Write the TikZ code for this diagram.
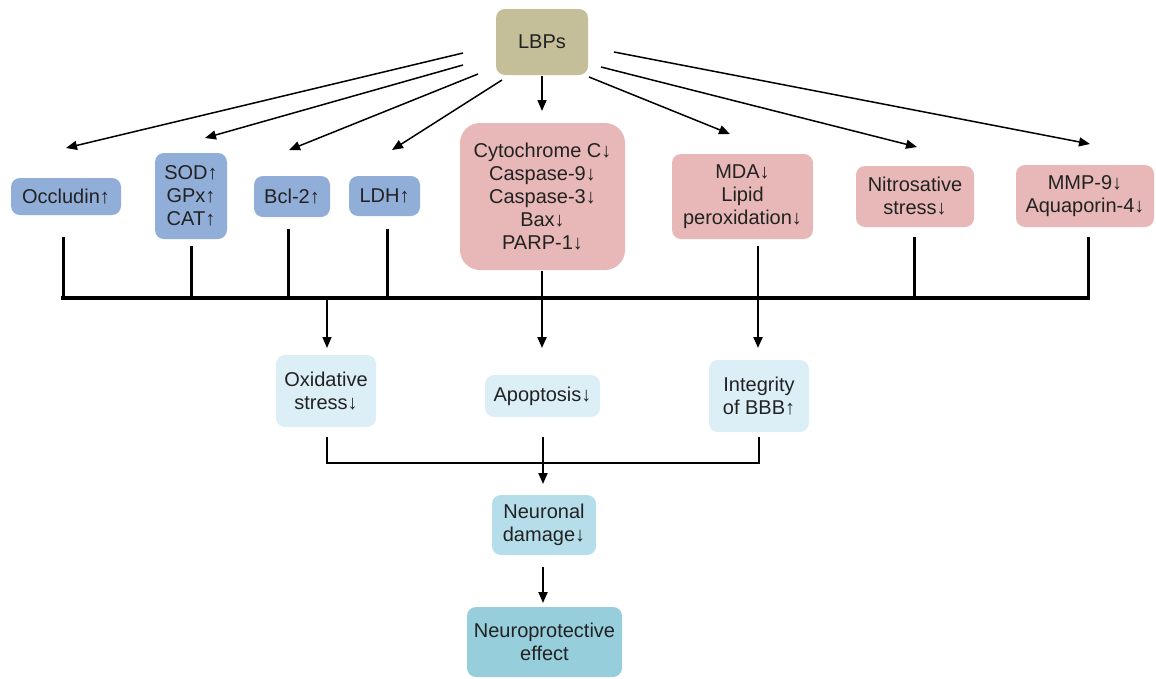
\documentclass[tikz,border=0pt]{standalone}
\usepackage{fontspec}
\setmainfont{Liberation Sans}
\usetikzlibrary{arrows.meta}
\definecolor{khaki}{HTML}{C4BF99}
\definecolor{bluebox}{HTML}{91AED9}
\definecolor{pinkbox}{HTML}{E8B8B8}
\definecolor{lightbox}{HTML}{DCEFF6}
\definecolor{midbox}{HTML}{B6DEEA}
\definecolor{darkbox}{HTML}{96CEDC}
\definecolor{txt}{HTML}{222222}
\tikzset{
  box/.style={rounded corners=9pt, align=center, inner sep=0pt, text=txt,
    font=\fontsize{20}{23}\selectfont},
  blue/.style={box, fill=bluebox},
  pink/.style={box, fill=pinkbox},
  lightb/.style={box, fill=lightbox},
  arr/.style={line width=1.5pt, -{Triangle[length=11pt,width=9pt]}},
  thickl/.style={line width=3pt},
  thinl/.style={line width=2pt},
}
\begin{document}
\begin{tikzpicture}[x=1pt,y=-1pt]
\useasboundingbox (0,0) rectangle (1156,678);
% top node
\node[box, fill=khaki, minimum width=92pt, minimum height=66pt] (lbp) at (542,42) {LBPs};
% second row
\node[blue, minimum width=110pt, minimum height=37pt] (occ) at (66,196.5) {Occludin↑};
\node[blue, minimum width=72pt, minimum height=86pt] (sod) at (191,196) {SOD↑\\GPx↑\\CAT↑};
\node[blue, minimum width=76pt, minimum height=41pt] (bcl) at (292,196.5) {Bcl-2↑};
\node[blue, minimum width=71pt, minimum height=40pt] (ldh) at (384.5,196) {LDH↑};
\node[pink, rounded corners=20pt, minimum width=165pt, minimum height=147pt] (cyt) at (542.5,196.5) {Cytochrome C↓\\Caspase-9↓\\Caspase-3↓\\Bax↓\\PARP-1↓};
\node[pink, minimum width=141pt, minimum height=85pt] (mda) at (742.5,196.5) {MDA↓\\Lipid\\peroxidation↓};
\node[pink, minimum width=118pt, minimum height=61pt] (nit) at (915,196.5) {Nitrosative\\stress↓};
\node[pink, minimum width=138pt, minimum height=62pt] (mmp) at (1085,196) {MMP-9↓\\Aquaporin-4↓};
% third row
\node[lightb, minimum width=100pt, minimum height=72pt] (oxi) at (326,391) {Oxidative\\stress↓};
\node[lightb, minimum width=115pt, minimum height=42pt] (apo) at (542.5,396) {Apoptosis↓};
\node[lightb, minimum width=100pt, minimum height=72pt] (int) at (759,396) {Integrity\\of BBB↑};
\node[box, fill=midbox, minimum width=104pt, minimum height=60pt] (neu) at (544,525) {Neuronal\\damage↓};
\node[box, fill=darkbox, minimum width=155pt, minimum height=70pt] (npe) at (544.5,642) {Neuroprotective\\effect};
% arrows from LBPs
\coordinate (s1) at (463,53);  \coordinate (e1) at (66,148);
\coordinate (s2) at (463,65);  \coordinate (e2) at (205,138);
\coordinate (s3) at (478,74);  \coordinate (e3) at (289,150);
\coordinate (s4) at (502,80);  \coordinate (e4) at (392,150);
\coordinate (s5) at (542,76);  \coordinate (e5) at (542,111);
\coordinate (s6) at (589,77);  \coordinate (e6) at (730,134);
\coordinate (s7) at (601,67);  \coordinate (e7) at (917,147);
\coordinate (s8) at (614,52);  \coordinate (e8) at (1090,144);
\foreach \i in {1,...,8} \draw[arr] (s\i) -- (e\i);
% collecting bar
\coordinate (bl) at (63,298); \coordinate (br) at (1088,298);
\draw[thickl] (63,237) -- (63,298);
\draw[thickl] (191,246) -- (191,298);
\draw[thickl] (288,229) -- (288,298);
\draw[thickl] (387,229) -- (387,298);
\draw[thickl] (914,237) -- (914,298);
\draw[thickl] (1088,237) -- (1088,298);
\draw[line width=4pt, line cap=rect] (bl) -- (br);
% down arrows to third row
\coordinate (c1) at (327,298); \coordinate (o1) at (327,348);
\coordinate (c2) at (542,271); \coordinate (o2) at (542,348);
\coordinate (c3) at (758,246); \coordinate (o3) at (758,348);
\draw[arr] (c1) -- (o1);
\draw[arr, line width=2pt] (c2) -- (o2);
\draw[arr, line width=2pt] (c3) -- (o3);
% lower collector
\coordinate (d1) at (327,437); \coordinate (d2) at (543,437); \coordinate (d3) at (759,437);
\coordinate (dm) at (543,484);
\draw[thinl] (d1) |- (d3 |- 0,463) -- (d3);
\draw[arr, line width=2pt] (d2) -- (dm);
\coordinate (n1) at (543,567); \coordinate (n2) at (543,603);
\draw[arr, line width=2pt] (n1) -- (n2);
\end{tikzpicture}
\end{document}
